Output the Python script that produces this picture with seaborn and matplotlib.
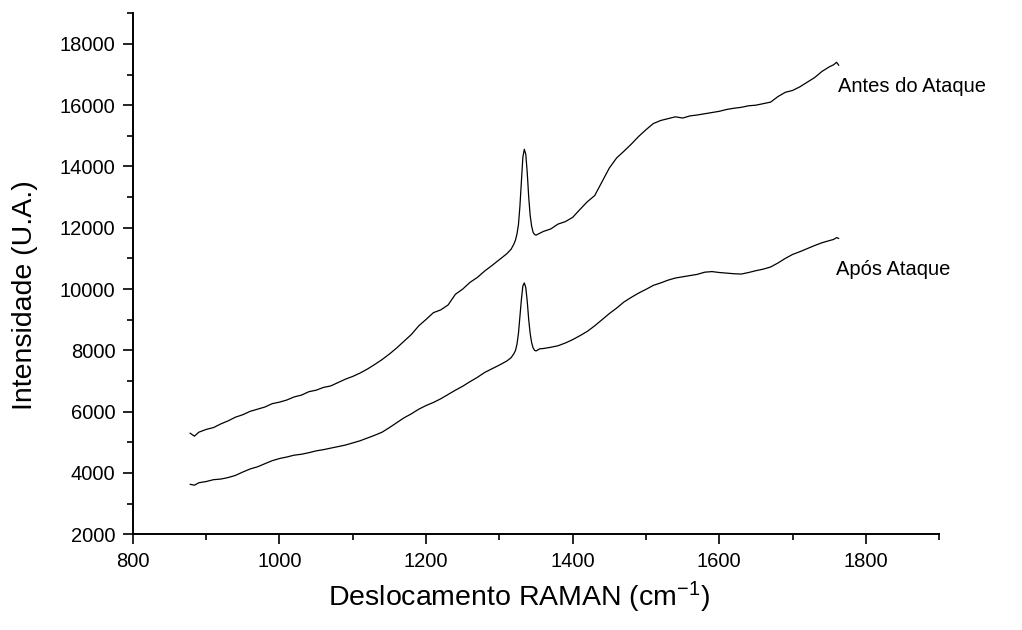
import matplotlib
matplotlib.use("Agg")
import matplotlib.pyplot as plt
from matplotlib.ticker import MultipleLocator
import seaborn as sns
import pandas as pd

# Raman shift (cm^-1)
shift = [878, 884, 890,
         900, 910, 920, 930, 940, 950, 960, 970, 980, 990,
         1000, 1010, 1020, 1030, 1040, 1050, 1060, 1070, 1080, 1090,
         1100, 1110, 1120, 1130, 1140, 1150, 1160, 1170, 1180, 1190,
         1200, 1210, 1220, 1230, 1240, 1250, 1260, 1270, 1280, 1290,
         1300, 1310, 1316,
         1320, 1322, 1324, 1326, 1328, 1330, 1332, 1334, 1336, 1338,
         1340, 1342, 1344, 1346, 1348, 1350, 1355,
         1360, 1370, 1380, 1390, 1400, 1410, 1420, 1430, 1440, 1450,
         1460, 1470, 1480, 1490, 1500, 1510, 1520, 1530, 1540, 1550,
         1560, 1570, 1580, 1590, 1600, 1610, 1620, 1630, 1640, 1650,
         1660, 1670, 1680, 1690, 1700, 1710, 1720, 1730, 1740, 1750,
         1756, 1760, 1763]

# Intensity before the attack ("Antes do Ataque")
antes = [5300, 5200, 5330,
         5420, 5480, 5600, 5700, 5820, 5900, 6010, 6080, 6150, 6260,
         6310, 6380, 6480, 6540, 6650, 6700, 6790, 6840, 6950, 7060,
         7150, 7260, 7390, 7540, 7700, 7880, 8080, 8300, 8520, 8800,
         9010, 9230, 9320, 9480, 9830, 10000, 10220, 10380, 10590, 10770,
         10960, 11150, 11300,
         11480, 11600, 11800, 12100, 12700, 13500, 14300, 14560, 14400, 13800,
         13000, 12400, 12050, 11850, 11780, 11760, 11820,
         11880, 11960, 12120, 12200, 12340, 12600, 12850, 13050, 13500, 13950,
         14280, 14500, 14730, 14980, 15200, 15400, 15500, 15560, 15620, 15580,
         15650, 15680, 15720, 15760, 15800, 15860, 15900, 15930, 15980, 16000,
         16050, 16100, 16280, 16420, 16480, 16600, 16750, 16900, 17100, 17250,
         17320, 17400, 17300]

# Intensity after the attack ("Após Ataque")
apos = [3630, 3600, 3680,
        3720, 3780, 3800, 3850, 3920, 4030, 4130, 4200, 4300, 4400,
        4470, 4520, 4580, 4610, 4660, 4720, 4760, 4810, 4860, 4910,
        4980, 5050, 5140, 5230, 5330, 5480, 5640, 5800, 5930, 6080,
        6200, 6300, 6420, 6560, 6700, 6830, 6980, 7120, 7280, 7400,
        7520, 7650, 7760,
        7900, 8000, 8200, 8550, 9100, 9650, 10100, 10200, 10050, 9600,
        9000, 8550, 8250, 8080, 8000, 7980, 8050,
        8060, 8100, 8150, 8240, 8350, 8480, 8620, 8800, 9000, 9200,
        9380, 9580, 9730, 9870, 9990, 10120, 10200, 10290, 10360, 10400,
        10440, 10480, 10550, 10570, 10540, 10520, 10500, 10490, 10540, 10600,
        10650, 10720, 10850, 11000, 11130, 11220, 11320, 11420, 11510, 11580,
        11620, 11680, 11650]

series_names = ["Antes do Ataque", "Após Ataque"]
x_ticks = [800, 1000, 1200, 1400, 1600, 1800]
y_ticks = [2000, 4000, 6000, 8000, 10000, 12000, 14000, 16000, 18000]

df = pd.concat([
    pd.DataFrame({"shift": shift, "intensity": antes, "serie": series_names[0]}),
    pd.DataFrame({"shift": shift, "intensity": apos, "serie": series_names[1]}),
], ignore_index=True)

sns.set_style("ticks")
plt.rcParams["font.family"] = ["Liberation Sans", "DejaVu Sans"]
plt.rcParams["mathtext.fontset"] = "custom"
plt.rcParams["mathtext.rm"] = "Liberation Sans"
plt.rcParams["mathtext.it"] = "Liberation Sans:italic"
plt.rcParams["text.color"] = "black"
plt.rcParams["axes.labelcolor"] = "black"
plt.rcParams["xtick.color"] = "black"
plt.rcParams["ytick.color"] = "black"

fig = plt.figure(figsize=(10.22, 6.30), dpi=100)
ax = fig.add_axes([0.130, 0.152, 0.789, 0.827])

sns.lineplot(data=df, x="shift", y="intensity", units="serie", estimator=None,
             sort=False, color="black", linewidth=0.9, ax=ax, legend=False)

ax.set_xlim(800, 1900)
ax.set_ylim(2000, 19000)
ax.set_xticks(x_ticks)
ax.set_yticks(y_ticks)
ax.xaxis.set_minor_locator(MultipleLocator(100))
ax.yaxis.set_minor_locator(MultipleLocator(1000))

for s in ["top", "right"]:
    ax.spines[s].set_visible(False)
for s in ["left", "bottom"]:
    ax.spines[s].set_linewidth(1.4)
    ax.spines[s].set_color("black")

ax.tick_params(which="major", length=7.5, width=1.2, labelsize=14.5,
               colors="black", labelcolor="black", pad=5, direction="out")
ax.tick_params(which="minor", length=4, width=1.2, colors="black", direction="out")

ax.set_xlabel("Deslocamento RAMAN (cm$^{\\mathrm{-1}}$)", fontsize=20.5, color="black")
ax.set_ylabel("Intensidade (U.A.)", fontsize=20.5, color="black")
ax.xaxis.label.set_va("center")
ax.yaxis.label.set_va("center")
ax.xaxis.set_label_coords(0.479, -0.121)
ax.yaxis.set_label_coords(-0.134, 0.459)

ax.text(1762, 16620, series_names[0], fontsize=14.5, va="center", ha="left", color="black")
ax.text(1759, 10650, series_names[1], fontsize=14.5, va="center", ha="left", color="black")

fig.savefig("out.png", dpi=100, facecolor="white")
